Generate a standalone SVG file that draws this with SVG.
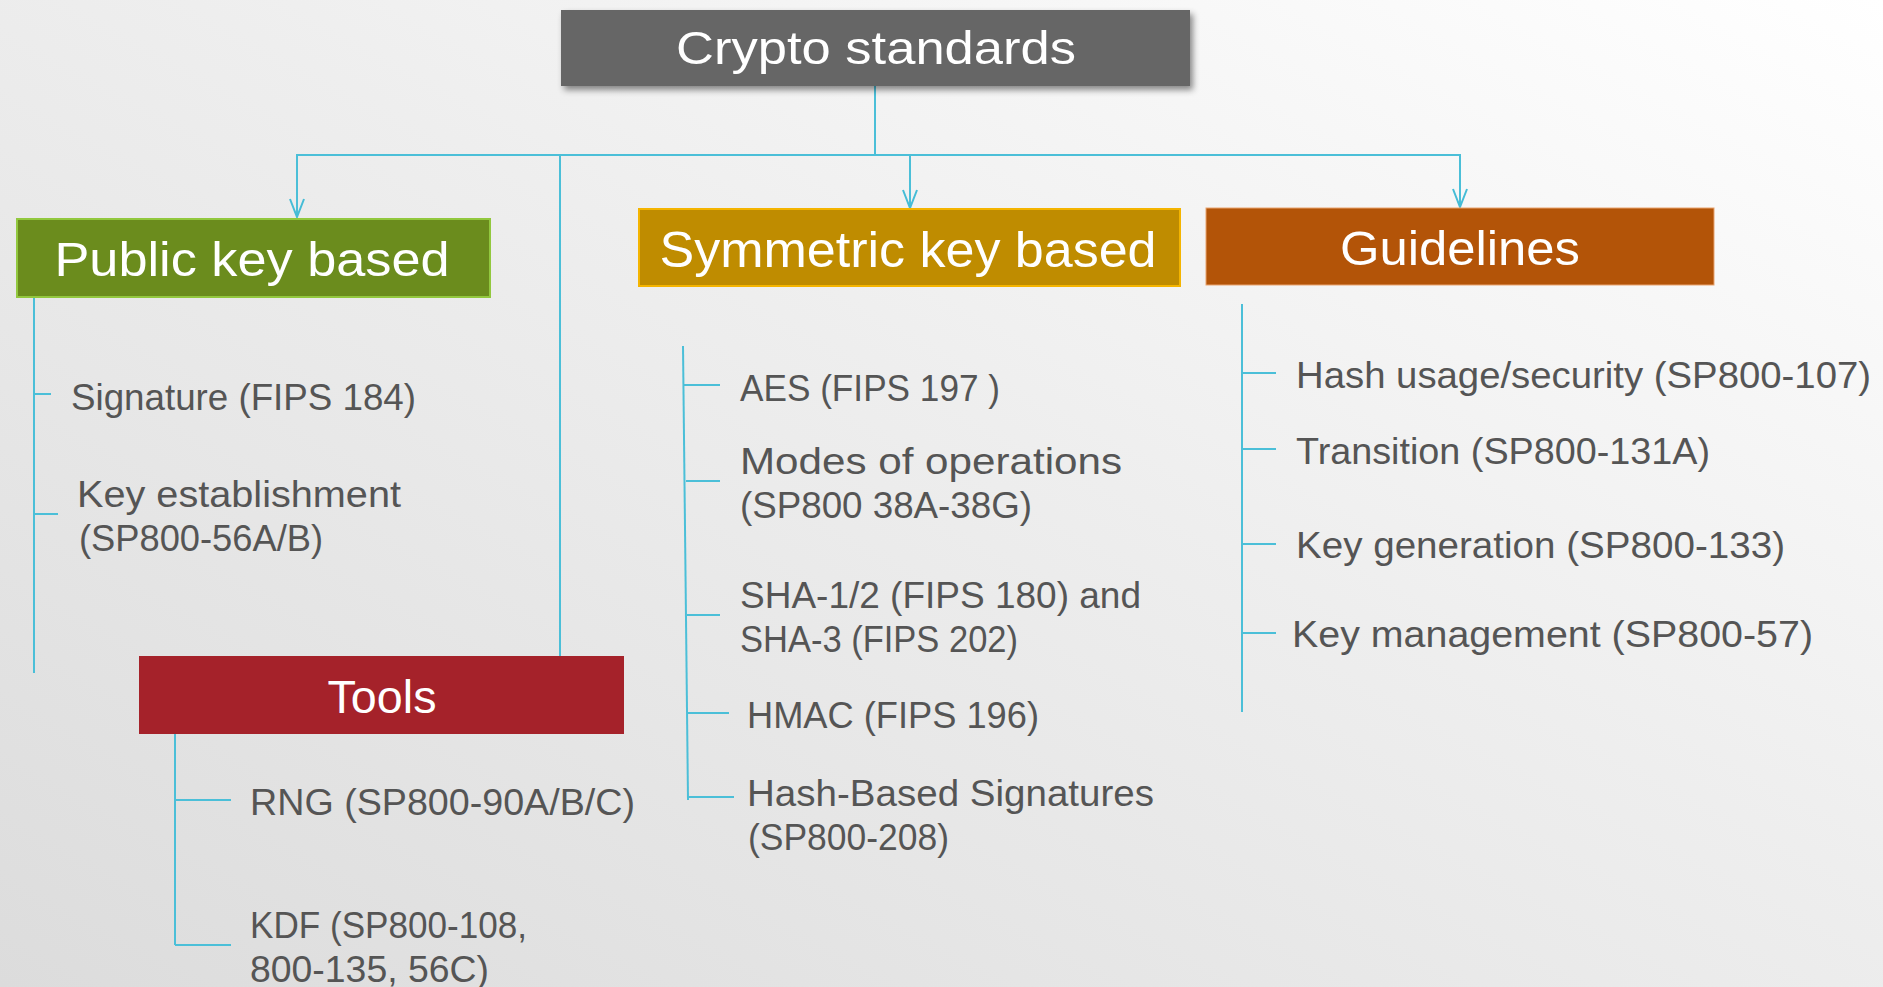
<svg xmlns="http://www.w3.org/2000/svg" width="1883" height="987" viewBox="0 0 1883 987">
<defs>
<linearGradient id="bg" x1="0" y1="1" x2="1" y2="0">
<stop offset="0" stop-color="#dcdcdc"/>
<stop offset="0.55" stop-color="#eeeeee"/>
<stop offset="1" stop-color="#ffffff"/>
</linearGradient>
<filter id="sh" x="-10%" y="-20%" width="125%" height="160%">
<feDropShadow dx="3" dy="4" stdDeviation="3" flood-color="#000" flood-opacity="0.45"/>
</filter>
<marker id="arr" viewBox="0 0 20 16" refX="19" refY="8" markerWidth="20" markerHeight="16" markerUnits="userSpaceOnUse" orient="auto">
<path d="M1,1 L19,8 L1,15" fill="none" stroke="#45bcd6" stroke-width="2"/>
</marker>
<style>
.ln{stroke:#4bbfd8;stroke-width:2;fill:none}
.hd{font-family:"Liberation Sans",Arial,sans-serif;fill:#ffffff;text-anchor:middle}
.it{font-family:"Liberation Sans",Arial,sans-serif;fill:#555555;font-size:36px}
.it2{font-family:"Liberation Sans",Arial,sans-serif;fill:#555555;font-size:37px}
</style>
</defs>
<rect x="0" y="0" width="1883" height="987" fill="url(#bg)"/>

<g id="connectors">
<line class="ln" x1="875" y1="86" x2="875" y2="155"/>
<line class="ln" x1="296" y1="155" x2="1461" y2="155"/>
<line class="ln" x1="297" y1="155" x2="297" y2="217" marker-end="url(#arr)"/>
<line class="ln" x1="910" y1="155" x2="910" y2="208" marker-end="url(#arr)"/>
<line class="ln" x1="1460" y1="155" x2="1460" y2="207" marker-end="url(#arr)"/>
<line class="ln" x1="560" y1="155" x2="560" y2="656"/>
<line class="ln" x1="34" y1="297" x2="34" y2="673"/>
<line class="ln" x1="34" y1="394" x2="51" y2="394"/>
<line class="ln" x1="34" y1="514" x2="58" y2="514"/>
<line class="ln" x1="683" y1="346" x2="688" y2="800"/>
<line class="ln" x1="684" y1="385" x2="720" y2="385"/>
<line class="ln" x1="686" y1="481" x2="720" y2="481"/>
<line class="ln" x1="687" y1="615" x2="720" y2="615"/>
<line class="ln" x1="688" y1="713" x2="729" y2="713"/>
<line class="ln" x1="688" y1="797" x2="734" y2="797"/>
<line class="ln" x1="1242" y1="304" x2="1242" y2="712"/>
<line class="ln" x1="1242" y1="373" x2="1276" y2="373"/>
<line class="ln" x1="1242" y1="449" x2="1276" y2="449"/>
<line class="ln" x1="1242" y1="544" x2="1276" y2="544"/>
<line class="ln" x1="1242" y1="633" x2="1276" y2="633"/>
<line class="ln" x1="175" y1="734" x2="175" y2="945"/>
<line class="ln" x1="175" y1="800" x2="231" y2="800"/>
<line class="ln" x1="175" y1="945" x2="231" y2="945"/>
</g>

<g id="crypto-standards">
<rect x="561" y="10" width="629" height="76" fill="#666666" filter="url(#sh)"/>
<text class="hd" x="876" y="64" font-size="46" textLength="400" lengthAdjust="spacingAndGlyphs">Crypto standards</text>
</g>

<g id="public-key-based">
<rect x="17" y="219" width="473" height="78" fill="#6b8c1d" stroke="#92c83e" stroke-width="2"/>
<text class="hd" x="252" y="276" font-size="48" textLength="395" lengthAdjust="spacingAndGlyphs">Public key based</text>
</g>

<g id="symmetric-key-based">
<rect x="639" y="209" width="541" height="77" fill="#bf8c00" stroke="#f4b400" stroke-width="2"/>
<text class="hd" x="908" y="267" font-size="50" textLength="497" lengthAdjust="spacingAndGlyphs">Symmetric key based</text>
</g>

<g id="guidelines">
<rect x="1206" y="208" width="508" height="77" fill="#b35408" stroke="#e9a36e" stroke-width="1"/>
<text class="hd" x="1460" y="265" font-size="48" textLength="240" lengthAdjust="spacingAndGlyphs">Guidelines</text>
</g>

<g id="tools">
<rect x="139" y="656" width="485" height="78" fill="#a5222a"/>
<text class="hd" x="382" y="713" font-size="46" textLength="109" lengthAdjust="spacingAndGlyphs">Tools</text>
</g>

<g id="public-key-items">
<text class="it" x="71" y="410" textLength="345" lengthAdjust="spacingAndGlyphs">Signature (FIPS 184)</text>
<text class="it" x="77" y="507" textLength="324" lengthAdjust="spacingAndGlyphs">Key establishment</text>
<text class="it" x="79" y="551" textLength="244" lengthAdjust="spacingAndGlyphs">(SP800-56A/B)</text>
</g>

<g id="symmetric-items">
<text class="it2" x="740" y="401" textLength="260" lengthAdjust="spacingAndGlyphs">AES  (FIPS 197 )</text>
<text class="it2" x="740" y="474" textLength="382" lengthAdjust="spacingAndGlyphs">Modes  of operations</text>
<text class="it2" x="740" y="518" textLength="292" lengthAdjust="spacingAndGlyphs">(SP800 38A-38G)</text>
<text class="it2" x="740" y="608" textLength="401" lengthAdjust="spacingAndGlyphs">SHA-1/2 (FIPS 180) and</text>
<text class="it2" x="740" y="652" textLength="278" lengthAdjust="spacingAndGlyphs">SHA-3 (FIPS 202)</text>
<text class="it2" x="747" y="728" textLength="292" lengthAdjust="spacingAndGlyphs">HMAC (FIPS 196)</text>
<text class="it2" x="747" y="806" textLength="407" lengthAdjust="spacingAndGlyphs">Hash-Based Signatures</text>
<text class="it2" x="748" y="850" textLength="201" lengthAdjust="spacingAndGlyphs">(SP800-208)</text>
</g>

<g id="guideline-items">
<text class="it" x="1296" y="388" textLength="575" lengthAdjust="spacingAndGlyphs">Hash usage/security (SP800-107)</text>
<text class="it" x="1296" y="464" textLength="414" lengthAdjust="spacingAndGlyphs">Transition  (SP800-131A)</text>
<text class="it" x="1296" y="558" textLength="489" lengthAdjust="spacingAndGlyphs">Key generation (SP800-133)</text>
<text class="it" x="1292" y="647" textLength="521" lengthAdjust="spacingAndGlyphs">Key management (SP800-57)</text>
</g>

<g id="tools-items">
<text class="it" x="250" y="815" textLength="385" lengthAdjust="spacingAndGlyphs">RNG (SP800-90A/B/C)</text>
<text class="it" x="250" y="938" textLength="277" lengthAdjust="spacingAndGlyphs">KDF (SP800-108,</text>
<text class="it" x="250" y="982" textLength="239" lengthAdjust="spacingAndGlyphs">800-135, 56C)</text>
</g>
</svg>
